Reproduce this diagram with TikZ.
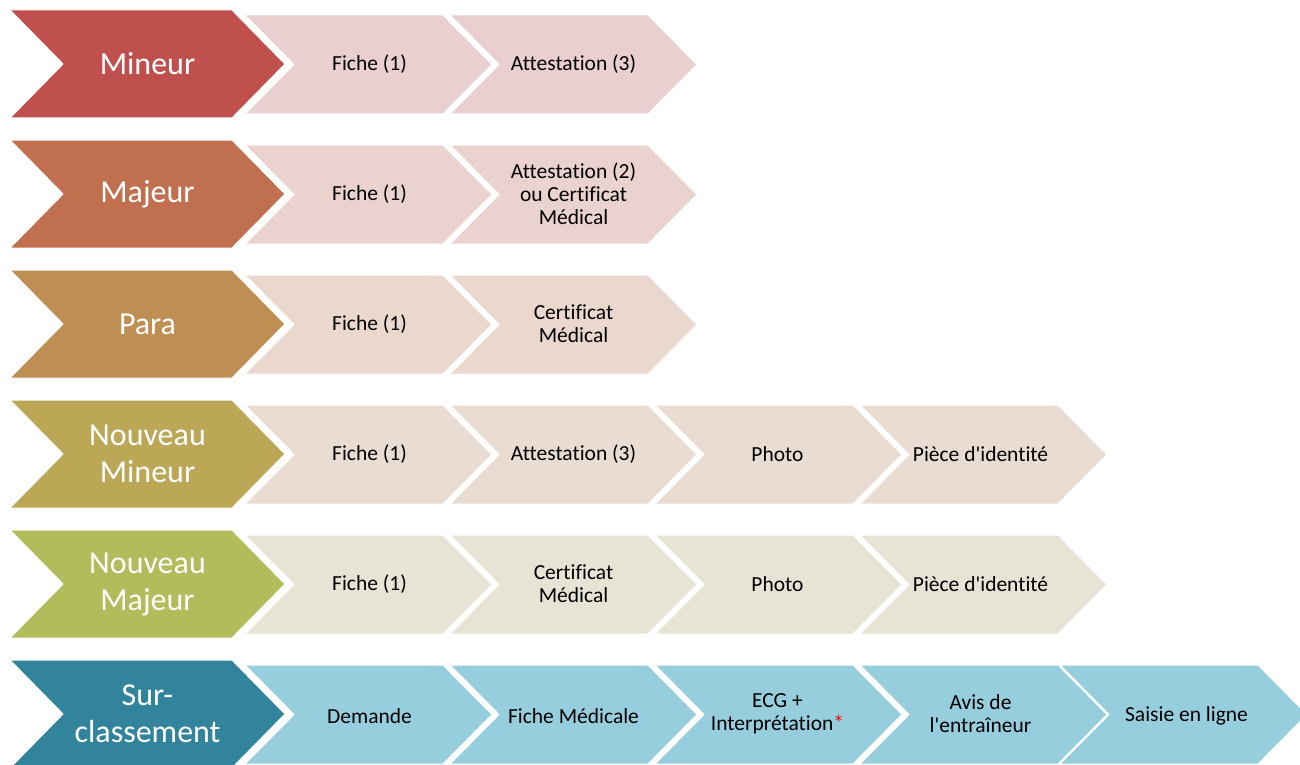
\documentclass[tikz,border=0pt]{standalone}
\usepackage{fontspec}
\setmainfont{Carlito}[Ligatures={NoCommon,TeXOff}]
\definecolor{cA}{HTML}{C0504D}
\definecolor{cB}{HTML}{C0704F}
\definecolor{cC}{HTML}{BE8E53}
\definecolor{cD}{HTML}{BBA756}
\definecolor{cE}{HTML}{B3BC5A}
\definecolor{cF}{HTML}{31849B}
\definecolor{tA}{HTML}{E9CFD0}
\definecolor{tB}{HTML}{EAD3CE}
\definecolor{tC}{HTML}{EAD8CF}
\definecolor{tD}{HTML}{E9DCD2}
\definecolor{tE}{HTML}{E7E4D6}
\definecolor{tF}{HTML}{97CEDD}
\newcommand\bigchev[2]{%
  \path[chevedge, fill=#2] (10,#1) -- (232,#1) -- (285,{#1+54}) -- (232,{#1+108}) -- (10,{#1+108}) -- (63,{#1+54}) -- cycle;}
\newcommand\smallchev[3]{%
  \path[chevedge, fill=#3] (#1,{#2+5}) -- ({#1+198},{#2+5}) -- ({#1+247},{#2+54.5}) -- ({#1+198},{#2+104}) -- (#1,{#2+104}) -- ({#1+49},{#2+54.5}) -- cycle;}
\begin{document}
\begin{tikzpicture}[x=1pt,y=-1pt,
  mainlbl/.style={text=white, font=\fontsize{32}{37}\selectfont, align=center, inner sep=0pt},
  steplbl/.style={text=black, font=\fontsize{21.5}{23}\selectfont, align=center, inner sep=0pt},
  chevedge/.style={draw=white, line width=1pt, line join=miter}]
\useasboundingbox (0,0) rectangle (1300,765);
% row 1
\smallchev{245}{10}{tA}\smallchev{450}{10}{tA}
\bigchev{10}{cA}
\node[mainlbl] (m1) at (147.5,64) {Mineur};
\node[steplbl] (m1a) at (369.5,64) {Fiche (1)};
\node[steplbl] (m1b) at (573.5,64) {Attestation (3)};
% row 2
\smallchev{245}{140}{tB}\smallchev{450}{140}{tB}
\bigchev{140}{cB}
\node[mainlbl] (m2) at (147.5,194) {Majeur};
\node[steplbl] (m2a) at (369.5,194) {Fiche (1)};
\node[steplbl] (m2b) at (573.5,194) {Attestation (2)\\ou Certificat\\Médical};
% row 3
\smallchev{245}{270}{tC}\smallchev{450}{270}{tC}
\bigchev{270}{cC}
\node[mainlbl] (m3) at (147.5,324) {Para};
\node[steplbl] (m3a) at (369.5,324) {Fiche (1)};
\node[steplbl] (m3b) at (573.5,324) {Certificat\\Médical};
% row 4
\smallchev{245}{400}{tD}\smallchev{450}{400}{tD}\smallchev{655}{400}{tD}\smallchev{860}{400}{tD}
\bigchev{400}{cD}
\node[mainlbl] (m4) at (147.5,454) {Nouveau\\Mineur};
\node[steplbl] (m4a) at (369.5,454) {Fiche (1)};
\node[steplbl] (m4b) at (573.5,454) {Attestation (3)};
\node[steplbl] (m4c) at (777.5,454) {Photo};
\node[steplbl] (m4d) at (980.5,454) {Pièce d'identité};
% row 5
\smallchev{245}{530}{tE}\smallchev{450}{530}{tE}\smallchev{655}{530}{tE}\smallchev{860}{530}{tE}
\bigchev{530}{cE}
\node[mainlbl] (m5) at (147.5,584) {Nouveau\\Majeur};
\node[steplbl] (m5a) at (369.5,584) {Fiche (1)};
\node[steplbl] (m5b) at (573.5,584) {Certificat\\Médical};
\node[steplbl] (m5c) at (777.5,584) {Photo};
\node[steplbl] (m5d) at (980.5,584) {Pièce d'identité};
% row 6
\smallchev{245}{660}{tF}\smallchev{450}{660}{tF}\smallchev{655}{660}{tF}\smallchev{860}{660}{tF}\smallchev{1060}{660}{tF}
\bigchev{660}{cF}
\node[mainlbl] (m6) at (147.5,714) {Sur-\\classement};
\node[steplbl] (m6a) at (369.5,716) {Demande};
\node[steplbl] (m6b) at (573.5,716) {Fiche Médicale};
\node[steplbl] (m6c) at (777.5,714) {ECG +\\Interprétation{\color{red}*}};
\node[steplbl] (m6d) at (980.5,714) {Avis de\\l'entraîneur};
\node[steplbl] (m6e) at (1186.5,716) {Saisie en ligne};
\end{tikzpicture}
\end{document}
